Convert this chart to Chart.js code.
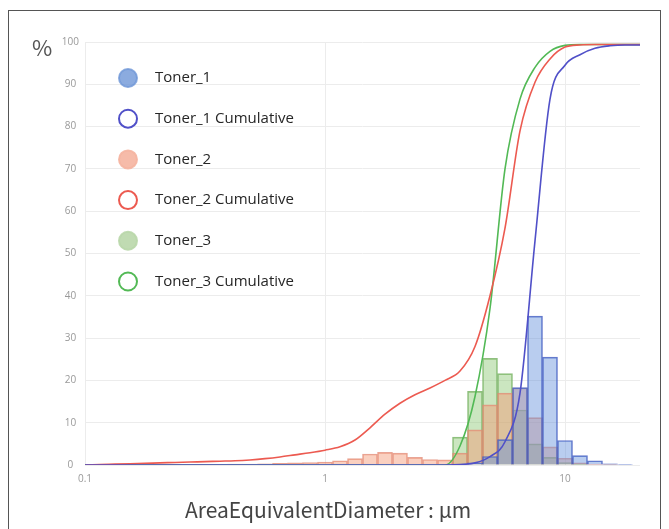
<!DOCTYPE html>
<html>
<head>
<meta charset="utf-8">
<script src="https://cdn.jsdelivr.net/npm/chart.js@4.4.0/dist/chart.umd.min.js"></script>
<style>
  html, body { margin: 0; padding: 0; background: #fff; }
  #wrap { position: relative; width: 669px; height: 529px; overflow: hidden; }
  #frame { position: absolute; left: 8px; top: 10px; width: 653px; height: 560px; border: 1px solid #555; box-sizing: border-box; }
  #chart { position: absolute; left: 0; top: 0; }
  .unit { position: absolute; left: 32px; top: 30px; font: 22px "Noto Sans CJK JP"; color: #555; }
  .xtitle { position: absolute; left: 185px; top: 494px; font: 21px "Noto Sans CJK JP"; color: #444; white-space: nowrap; }
</style>
</head>
<body>
<div id="wrap">
  <div id="frame"></div>
  <canvas id="chart" width="669" height="529"></canvas>
  <div class="unit">%</div>
  <div class="xtitle">AreaEquivalentDiameter : µm</div>
</div>
<script>
// bin centres (log spaced, 16 per decade) in µm
const diameters = [
    0.1, 0.11548, 0.13335, 0.15399, 0.17783, 0.20535, 0.23714, 0.27384,
    0.31623, 0.36517, 0.42170, 0.48697, 0.56234, 0.64938, 0.74989, 0.86596,
    1.0, 1.1548, 1.3335, 1.5399, 1.7783, 2.0535, 2.3714, 2.7384,
    3.1623, 3.6517, 4.2170, 4.8697, 5.6234, 6.4938, 7.4989, 8.6596,
    10.0, 11.548, 13.335, 15.399, 17.783
];
// cumulative curves run one step further, to the right edge
const lineDiameters = diameters.concat([20.535]);
const xTicks = [0.1, 1, 10];

// frequency, %
const toner1 = [
    0, 0, 0, 0, 0, 0, 0, 0, 0, 0, 0, 0, 0, 0, 0, 0,
    0, 0, 0, 0, 0, 0, 0, 0, 0, 0, 0.5, 2.0, 6.0, 18.3, 35.2, 25.5,
    5.8, 2.2, 1.0, 0.3, 0.1
];
const toner2 = [
    0.1, 0.1, 0.1, 0.1, 0.1, 0.1, 0.1, 0.1, 0.1, 0.1, 0.2, 0.2, 0.3, 0.4, 0.5, 0.6,
    0.7, 1.0, 1.5, 2.6, 3.0, 2.8, 1.8, 1.3, 1.2, 2.8, 8.3, 14.2, 17.0, 18.2, 11.2, 4.3,
    1.6, 0.5, 0.2, 0.1, 0
];
const toner3 = [
    0, 0, 0, 0, 0, 0, 0, 0, 0, 0, 0, 0, 0, 0, 0, 0,
    0, 0, 0, 0, 0, 0, 0, 0, 0.1, 6.6, 17.4, 25.2, 21.6, 13.0, 5.0, 1.8,
    0.6, 0.2, 0, 0, 0
];

// cumulative, %
const toner1Cum = [
    0, 0, 0, 0, 0, 0, 0, 0, 0, 0, 0, 0, 0, 0, 0, 0,
    0, 0, 0, 0, 0, 0, 0, 0, 0, 0.1, 0.5, 2.0, 5.5, 17.0, 53.0, 86.5,
    94.5, 97.0, 98.5, 99.1, 99.3, 99.3
];
const toner2Cum = [
    0, 0.1, 0.2, 0.3, 0.4, 0.5, 0.6, 0.7, 0.8, 0.9, 1.0, 1.2, 1.5, 1.9, 2.4, 2.9,
    3.5, 4.3, 5.9, 8.8, 12.0, 14.6, 16.6, 18.2, 20.0, 22.2, 28.0, 40.0, 56.0, 79.0, 90.5, 96.0,
    98.8, 99.3, 99.4, 99.4, 99.4, 99.4
];
const toner3Cum = [
    0, 0, 0, 0, 0, 0, 0, 0, 0, 0, 0, 0, 0, 0, 0, 0,
    0, 0, 0, 0, 0, 0, 0, 0, 0, 4.5, 16.2, 37.0, 70.0, 86.5, 94.0, 97.8,
    99.2, 99.4, 99.4, 99.4, 99.4, 99.4
];

function points(xs, ys) {
    return ys.map((y, i) => ({ x: xs[i], y: y }));
}

function barSet(label, values, fill, border, legendFill) {
    return {
        type: 'bar',
        label: label,
        data: points(diameters, values),
        backgroundColor: fill,
        borderColor: border,
        borderWidth: 1,
        grouped: false,
        barPercentage: 1,
        categoryPercentage: 1,
        legendFill: legendFill,
        order: 2
    };
}

function lineSet(label, values, color) {
    return {
        type: 'line',
        label: label,
        data: points(lineDiameters, values),
        borderColor: color,
        borderWidth: 1.6,
        pointRadius: 0,
        fill: false,
        cubicInterpolationMode: 'monotone',
        order: 1
    };
}

// legend drawn inside the plot, top left
const legendInside = {
    id: 'legendInside',
    afterDraw(chart) {
        const { ctx, chartArea } = chart;
        ctx.save();
        ctx.font = '15px "Open Sans"';
        ctx.textBaseline = 'middle';
        chart.data.datasets.forEach((ds, i) => {
            const cx = chartArea.left + 43;
            const cy = chartArea.top + 36 + i * 40.7;
            ctx.beginPath();
            ctx.arc(cx, cy, 9, 0, Math.PI * 2);
            ctx.fillStyle = ds.type === 'line' ? '#fff' : ds.legendFill;
            ctx.fill();
            ctx.lineWidth = 2;
            ctx.strokeStyle = ds.type === 'line' ? ds.borderColor : ds.legendFill;
            ctx.stroke();
            ctx.fillStyle = '#262626';
            ctx.fillText(ds.label, cx + 27, cy);
        });
        ctx.restore();
    }
};

const ctx = document.getElementById('chart').getContext('2d');

new Chart(ctx, {
    type: 'bar',
    data: {
        datasets: [
            barSet('Toner_1', toner1, 'rgba(100,145,220,0.45)', 'rgba(60,85,190,0.8)', 'rgba(110,150,215,0.8)'),
            lineSet('Toner_1 Cumulative', toner1Cum, '#5050c8'),
            barSet('Toner_2', toner2, 'rgba(245,150,115,0.45)', 'rgba(225,135,115,0.75)', 'rgba(245,180,160,0.9)'),
            lineSet('Toner_2 Cumulative', toner2Cum, '#ec5a50'),
            barSet('Toner_3', toner3, 'rgba(140,200,115,0.45)', 'rgba(115,175,95,0.8)', 'rgba(185,215,170,0.9)'),
            lineSet('Toner_3 Cumulative', toner3Cum, '#52b955')
        ]
    },
    options: {
        responsive: false,
        animation: false,
        layout: { padding: { left: 52, right: 29, top: 42, bottom: 0 } },
        plugins: {
            legend: { display: false },
            tooltip: { enabled: false }
        },
        scales: {
            x: {
                type: 'logarithmic',
                min: 0.1,
                max: 20.535,
                offset: false,
                afterBuildTicks: (scale) => {
                    scale.ticks = xTicks.map(v => ({ value: v }));
                },
                afterFit: (scale) => { scale.height = 64; },
                grid: { offset: false, color: '#ececec', drawTicks: false },
                border: { display: false },
                ticks: {
                    callback: (v) => String(v),
                    padding: 8,
                    color: '#999',
                    font: { family: 'Open Sans', size: 10 },
                    autoSkip: false,
                    maxRotation: 0
                }
            },
            y: {
                min: 0,
                max: 100,
                afterFit: (scale) => { scale.width = 33; },
                grid: { color: '#ececec', drawTicks: false },
                border: { display: false },
                ticks: {
                    stepSize: 10,
                    padding: 6,
                    crossAlign: 'center',
                    color: '#999',
                    font: { family: 'Open Sans', size: 10 }
                }
            }
        }
    },
    plugins: [legendInside]
});
</script>
</body>
</html>
